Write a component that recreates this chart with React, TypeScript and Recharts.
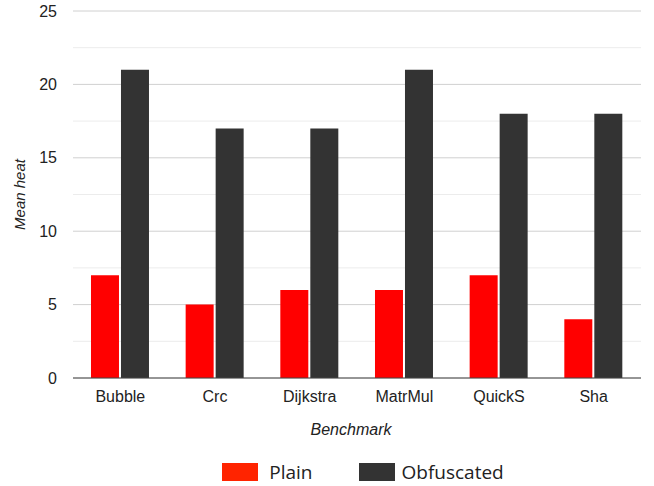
import { BarChart, Bar, XAxis, YAxis, CartesianGrid, Legend } from 'recharts'

const benchmarks = ['Bubble', 'Crc', 'Dijkstra', 'MatrMul', 'QuickS', 'Sha']
const plainHeat = [7, 5, 6, 6, 7, 4]
const obfuscatedHeat = [21, 17, 17, 21, 18, 18]
const majorTicks = [0, 5, 10, 15, 20, 25]
const minorTicks = [2.5, 7.5, 12.5, 17.5, 22.5]

const data = benchmarks.map((name, i) => ({
  name,
  plain: plainHeat[i],
  obfuscated: obfuscatedHeat[i],
}))

const axisFont = 'Liberation Sans, Arial, sans-serif'

// legend drawn like the sheets one: big swatch + label
const renderLegend = () => (
  <div
    style={{
      display: 'flex',
      justifyContent: 'center',
      alignItems: 'center',
      paddingTop: 25,
      paddingLeft: 85,
      fontFamily: 'Open Sans, sans-serif',
      fontSize: 19,
      lineHeight: '22px',
      color: '#222',
    }}
  >
    <span style={{ display: 'inline-block', width: 36, height: 18, background: '#ff2400' }} />
    <span style={{ marginLeft: 11, marginRight: 46 }}>Plain</span>
    <span style={{ display: 'inline-block', width: 36, height: 18, background: '#333333' }} />
    <span style={{ marginLeft: 7 }}>Obfuscated</span>
  </div>
)

const App = () => {
  return (
    <div style={{ position: 'absolute', left: 0, top: 0, background: '#fff' }}>
      <BarChart
        width={654}
        height={486}
        data={data}
        margin={{ top: 11, right: 13, left: 0, bottom: 0 }}
        barCategoryGap="19%"
        barGap={2}
      >
        <CartesianGrid vertical={false} stroke="#ececec" horizontalValues={minorTicks} />
        <CartesianGrid vertical={false} stroke="#d0d0d0" horizontalValues={majorTicks} />
        <XAxis
          dataKey="name"
          height={58}
          tickLine={false}
          tickSize={0}
          tickMargin={13}
          axisLine={{ stroke: '#444' }}
          tick={{ fill: '#222', fontSize: 16, fontFamily: axisFont }}
          label={{
            value: 'Benchmark',
            position: 'insideBottom',
            offset: 1,
            dx: -6,
            style: { fill: '#222', fontSize: 16, fontStyle: 'italic', fontFamily: axisFont },
          }}
        />
        <YAxis
          width={73}
          domain={[0, 25]}
          ticks={majorTicks}
          tickLine={false}
          axisLine={false}
          tickSize={0}
          tickMargin={16}
          tick={{ fill: '#222', fontSize: 16, fontFamily: axisFont }}
          label={{
            value: 'Mean heat',
            angle: -90,
            position: 'insideLeft',
            offset: 20,
            style: { textAnchor: 'middle', fill: '#222', fontSize: 15, fontStyle: 'italic', fontFamily: axisFont },
          }}
        />
        <Legend verticalAlign="bottom" height={50} content={renderLegend} />
        <Bar dataKey="plain" name="Plain" fill="#ff0000" isAnimationActive={false} />
        <Bar dataKey="obfuscated" name="Obfuscated" fill="#333333" isAnimationActive={false} />
      </BarChart>
    </div>
  )
}

export default App
